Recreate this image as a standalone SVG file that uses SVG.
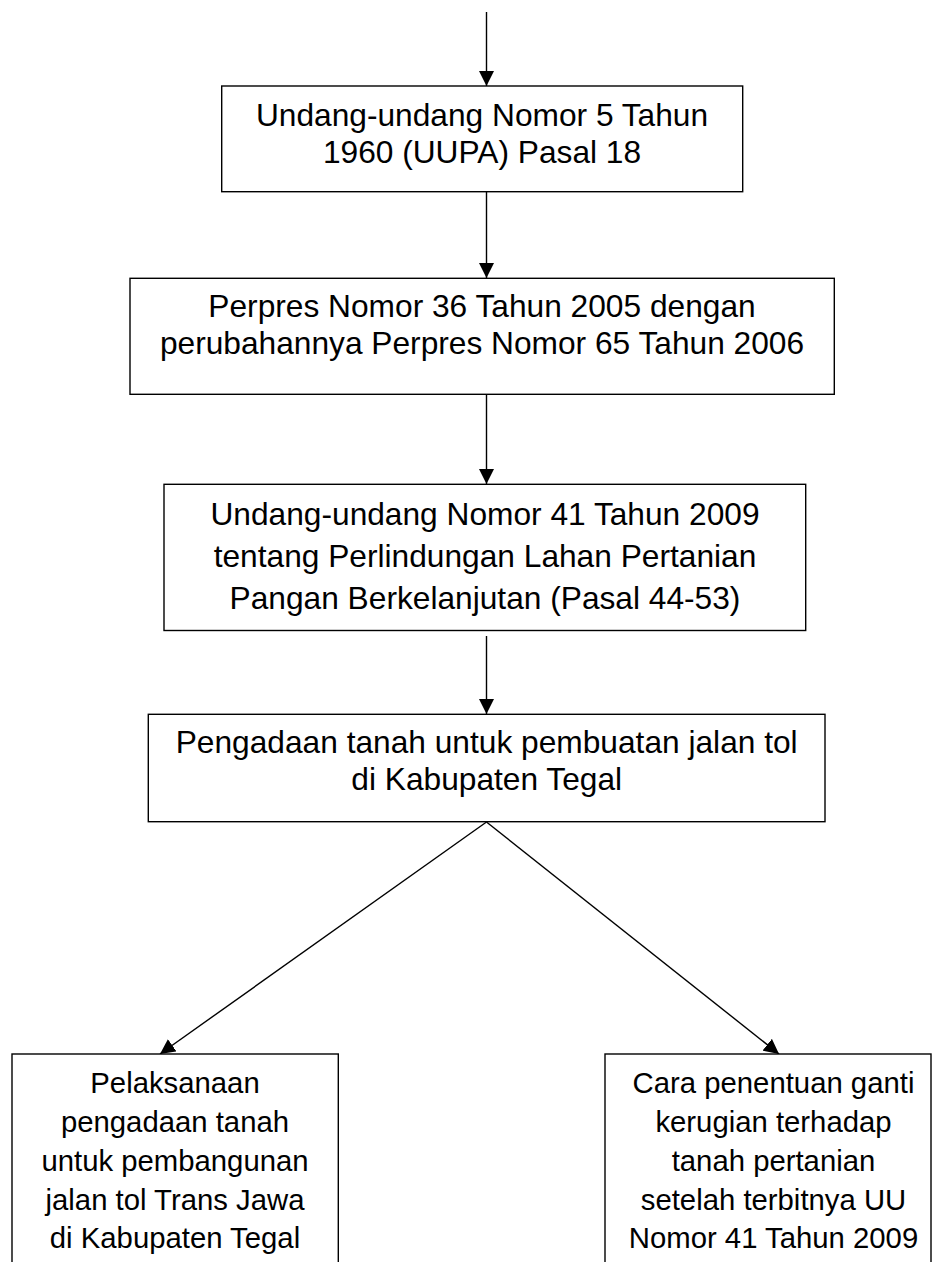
<svg xmlns="http://www.w3.org/2000/svg" width="932" height="1262" viewBox="0 0 932 1262">
<style>
.box{fill:#fff;stroke:#000;stroke-width:1.4}
.t{font-family:"Liberation Sans",Arial,sans-serif;font-size:31.7px;fill:#000;text-anchor:middle}
.s{font-family:"Liberation Sans",Arial,sans-serif;font-size:29.3px;fill:#000;text-anchor:middle}
.c{stroke:#000;stroke-width:1.4;fill:none;marker-end:url(#ah)}
</style>
<defs>
<marker id="ah" markerUnits="userSpaceOnUse" markerWidth="15" markerHeight="15" refX="15" refY="7.5" orient="auto">
<path d="M0,0 L15,7.5 L0,15 z" fill="#000"/>
</marker>
</defs>
<rect width="932" height="1262" fill="#fff"/>
<g id="connectors">
<line class="c" x1="486.5" y1="12" x2="486.5" y2="86"/>
<line class="c" x1="486.5" y1="192" x2="486.5" y2="278"/>
<line class="c" x1="486.5" y1="394" x2="486.5" y2="484"/>
<line class="c" x1="486.5" y1="636" x2="486.5" y2="714"/>
<line class="c" x1="486.5" y1="822" x2="160" y2="1054"/>
<line class="c" x1="486.5" y1="822" x2="779" y2="1054"/>
</g>
<g id="n1">
<rect class="box" x="221.7" y="86" width="521" height="105.7"/>
<text class="t" x="482" y="126">Undang-undang Nomor 5 Tahun</text>
<text class="t" x="482" y="162.7">1960 (UUPA) Pasal 18</text>
</g>
<g id="n2">
<rect class="box" x="130" y="278.3" width="704.3" height="116"/>
<text class="t" x="482" y="317.3">Perpres Nomor 36 Tahun 2005 dengan</text>
<text class="t" x="482" y="354.3">perubahannya Perpres Nomor 65 Tahun 2006</text>
</g>
<g id="n3">
<rect class="box" x="164" y="484.3" width="641.7" height="146.2"/>
<text class="t" x="485" y="525">Undang-undang Nomor 41 Tahun 2009</text>
<text class="t" x="485" y="566.7">tentang Perlindungan Lahan Pertanian</text>
<text class="t" x="485" y="609.3">Pangan Berkelanjutan (Pasal 44-53)</text>
</g>
<g id="n4">
<rect class="box" x="148.3" y="714.3" width="676.7" height="107.4"/>
<text class="t" x="486.7" y="753.3">Pengadaan tanah untuk pembuatan jalan tol</text>
<text class="t" x="486.7" y="790">di Kabupaten Tegal</text>
</g>
<g id="n5">
<rect class="box" x="12" y="1054" width="326.3" height="240"/>
<text class="s" x="175" y="1093">Pelaksanaan</text>
<text class="s" x="175" y="1132">pengadaan tanah</text>
<text class="s" x="175" y="1171">untuk pembangunan</text>
<text class="s" x="175" y="1209.5">jalan tol Trans Jawa</text>
<text class="s" x="175" y="1248">di Kabupaten Tegal</text>
</g>
<g id="n6">
<rect class="box" x="605" y="1054" width="326" height="240"/>
<text class="s" x="773.5" y="1093">Cara penentuan ganti</text>
<text class="s" x="773.5" y="1132">kerugian terhadap</text>
<text class="s" x="773.5" y="1171">tanah pertanian</text>
<text class="s" x="773.5" y="1209.5">setelah terbitnya UU</text>
<text class="s" x="773.5" y="1248">Nomor 41 Tahun 2009</text>
</g>
</svg>
